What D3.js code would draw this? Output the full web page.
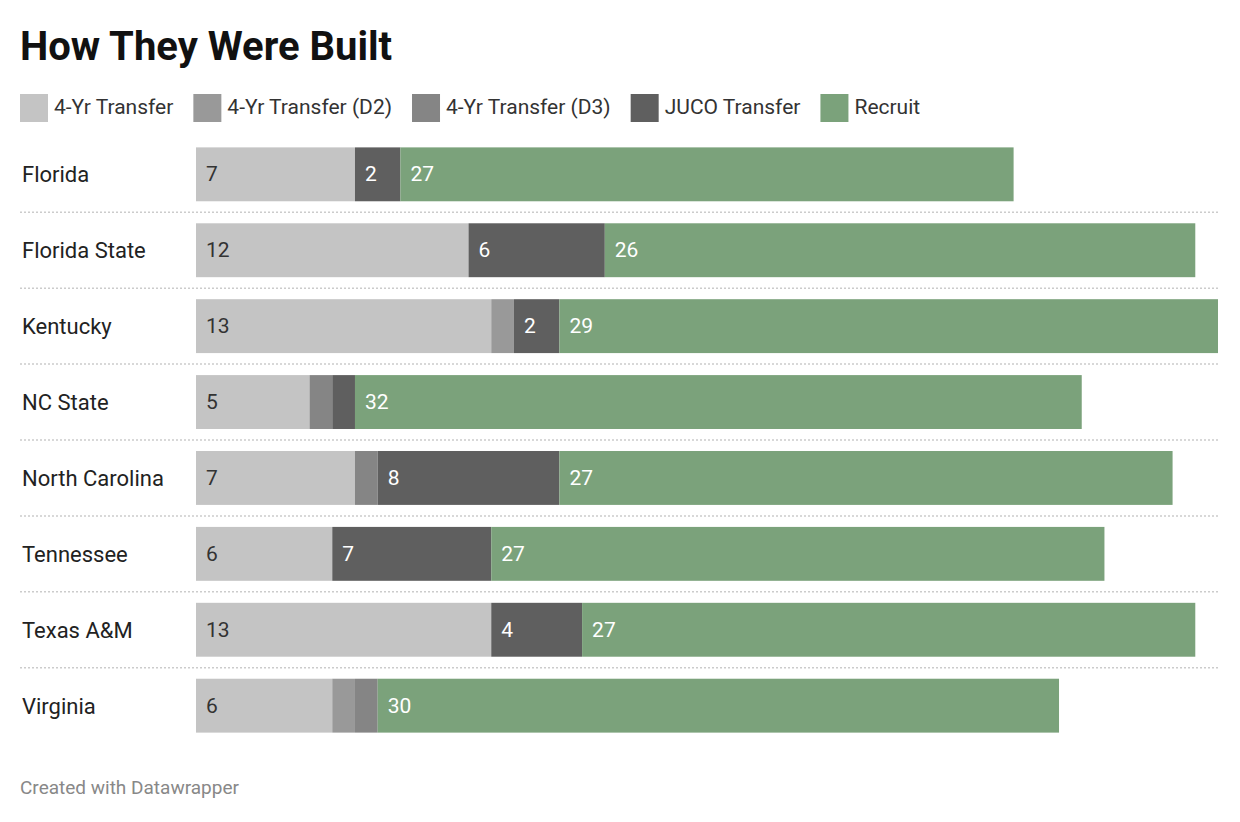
<!DOCTYPE html><html><head><meta charset="utf-8"><script src="https://cdn.jsdelivr.net/npm/d3@7"></script>
<style>body{margin:0;background:#fff;font-family:Roboto,sans-serif}</style></head><body><svg id="c" width="1240" height="822"></svg>
<script>
const teams=["Florida","Florida State","Kentucky","NC State","North Carolina","Tennessee","Texas A&M","Virginia"];
const seriesNames=["4-Yr Transfer","4-Yr Transfer (D2)","4-Yr Transfer (D3)","JUCO Transfer","Recruit"];
const transfer4=[7,12,13,5,7,6,13,6];
const transferD2=[0,0,1,0,0,0,0,1];
const transferD3=[0,0,0,1,1,0,0,1];
const juco=[2,6,2,1,8,7,4,0];
const recruit=[27,26,29,32,27,27,27,30];
const colors=["#c4c4c4","#999999","#858585","#5f5f5f","#7ba27b"];
const labelColors=["#333","#fff","#fff","#fff","#fff"];
const cols=[transfer4,transferD2,transferD3,juco,recruit];
const data=teams.map((t,i)=>{const o={team:t};seriesNames.forEach((s,j)=>o[s]=cols[j][i]);return o;});
const svg=d3.select("#c");
svg.append("text").attr("x",20).attr("y",60).attr("font-size",40).attr("font-weight",700).attr("fill","#111").text("How They Were Built");
// legend
let lx=20;
seriesNames.forEach((s,j)=>{
  svg.append("rect").attr("x",lx).attr("y",94).attr("width",28).attr("height",28).attr("fill",colors[j]);
  const t=svg.append("text").attr("x",lx+34).attr("y",114).attr("font-size",21).attr("fill","#333").text(s);
  lx+=34+t.node().getComputedTextLength()+20;
});
const x=d3.scaleLinear().domain([0,45]).range([196,1218]);
const y=d3.scaleBand().domain(teams).range([136,744]).paddingInner(0.29).paddingOuter(0.15);
const stack=d3.stack().keys(seriesNames)(data);
stack.forEach((layer,j)=>{
  const g=svg.append("g");
  layer.forEach((d,i)=>{
    const v=d[1]-d[0]; if(!v) return;
    g.append("rect").attr("x",x(d[0])).attr("y",y(teams[i])).attr("width",x(d[1])-x(d[0])).attr("height",y.bandwidth()).attr("fill",colors[j]);
    if(v>1) g.append("text").attr("x",x(d[0])+10).attr("y",y(teams[i])+y.bandwidth()/2+7).attr("font-size",21).attr("fill",labelColors[j]).text(v);
  });
});
teams.forEach((t,i)=>{
  svg.append("text").attr("x",22).attr("y",y(t)+y.bandwidth()/2+8).attr("font-size",22).attr("fill","#222").text(t);
  if(i<teams.length-1){const ly=y(t)+y.bandwidth()+(y.step()-y.bandwidth())/2;
  svg.append("line").attr("x1",20).attr("x2",1218).attr("y1",ly).attr("y2",ly).attr("stroke","#ccc").attr("stroke-width",1.5).attr("stroke-dasharray","2,2");}
});
svg.append("text").attr("x",20).attr("y",794).attr("font-size",19).attr("fill","#888").text("Created with Datawrapper");
</script></body></html>
